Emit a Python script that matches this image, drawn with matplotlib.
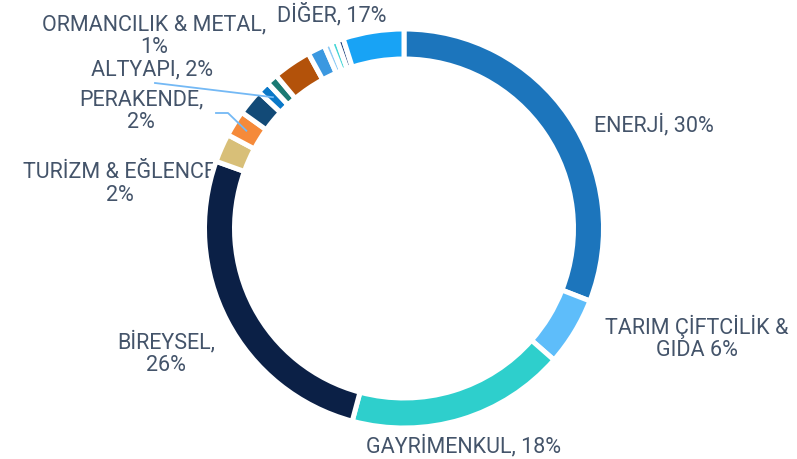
import numpy as np
import matplotlib.pyplot as plt

# slice sizes (%), clockwise from 12 o'clock
sectors = ['ENERJİ', 'TARIM ÇİFTCİLİK & GIDA', 'GAYRİMENKUL', 'BİREYSEL',
           'TURİZM & EĞLENCE', 'PERAKENDE', 'ALTYAPI-1', 'ALTYAPI', 'ORMANCILIK',
           'DİĞER-1', 'DİĞER-2', 'DİĞER-3', 'DİĞER-4', 'DİĞER-5', 'DİĞER']
values = [30.7, 5.5, 17.6, 26.1, 2.3, 2.1, 2.1, 1.0, 0.9, 3.1, 1.4, 0.55, 0.55, 0.5, 4.9]
colors = ['#1c75bc', '#5ebdfa', '#2ecfcc', '#0b2046', '#d8bf78', '#f58a3a',
          '#124a77', '#0a78c8', '#1b7a73', '#b3520a', '#3b98e0', '#8dcaf5',
          '#45d6d6', '#1a3d7a', '#18a3f5']

# (text, x px, y px) label placement
labels = [
    ('ENERJİ, 30%', 654, 125),
    ('TARIM ÇİFTCİLİK &\nGIDA 6%', 697, 338),
    ('GAYRİMENKUL, 18%', 464, 446),
    ('BİREYSEL,\n26%', 166, 353),
    ('TURİZM & EĞLENCE\n2%', 120, 184),
    ('PERAKENDE,\n2%', 141, 111),
    ('ALTYAPI, 2%', 152, 70),
    ('ORMANCILIK & METAL,\n1%', 154, 36),
    ('DİĞER, 17%', 332, 15),
]

W, H = 797, 459
cx, cy, r = 404, 228.5, 199.5
txt_col = '#44546a'
line_col = '#74b9f5'

fig = plt.figure(figsize=(W / 100, H / 100), dpi=100)
ax = fig.add_axes([0, 0, 1, 1])

wedges, _ = ax.pie(values, colors=colors, startangle=90, counterclock=False,
                   center=(cx, H - cy), radius=r,
                   wedgeprops=dict(width=30, edgecolor='white', linewidth=3.6, zorder=2))
ax.set_xlim(0, W)
ax.set_ylim(0, H)
ax.set_aspect('equal')
ax.axis('off')

for t, x, y in labels:
    ax.text(x, H - y, t, ha='center', va='center', fontsize=15.5, color=txt_col,
            family='Roboto', fontweight='normal', linespacing=1.1, zorder=1)


def wedge_point(w, frac=0.5, rr=0.95):
    th = np.radians(w.theta1 + frac * (w.theta2 - w.theta1))
    return cx + rr * r * np.cos(th), H - cy + rr * r * np.sin(th)


# leader lines
px, py = wedge_point(wedges[7], 0.5, 0.93)
ax.plot([155, px], [H - 83, py], color=line_col, lw=1.3, zorder=3)
px, py = wedge_point(wedges[5], 0.5, 0.93)
ax.plot([216, 228, px], [H - 113, H - 113, py], color=line_col, lw=1.3, zorder=3)

fig.savefig('out.png', dpi=100)
